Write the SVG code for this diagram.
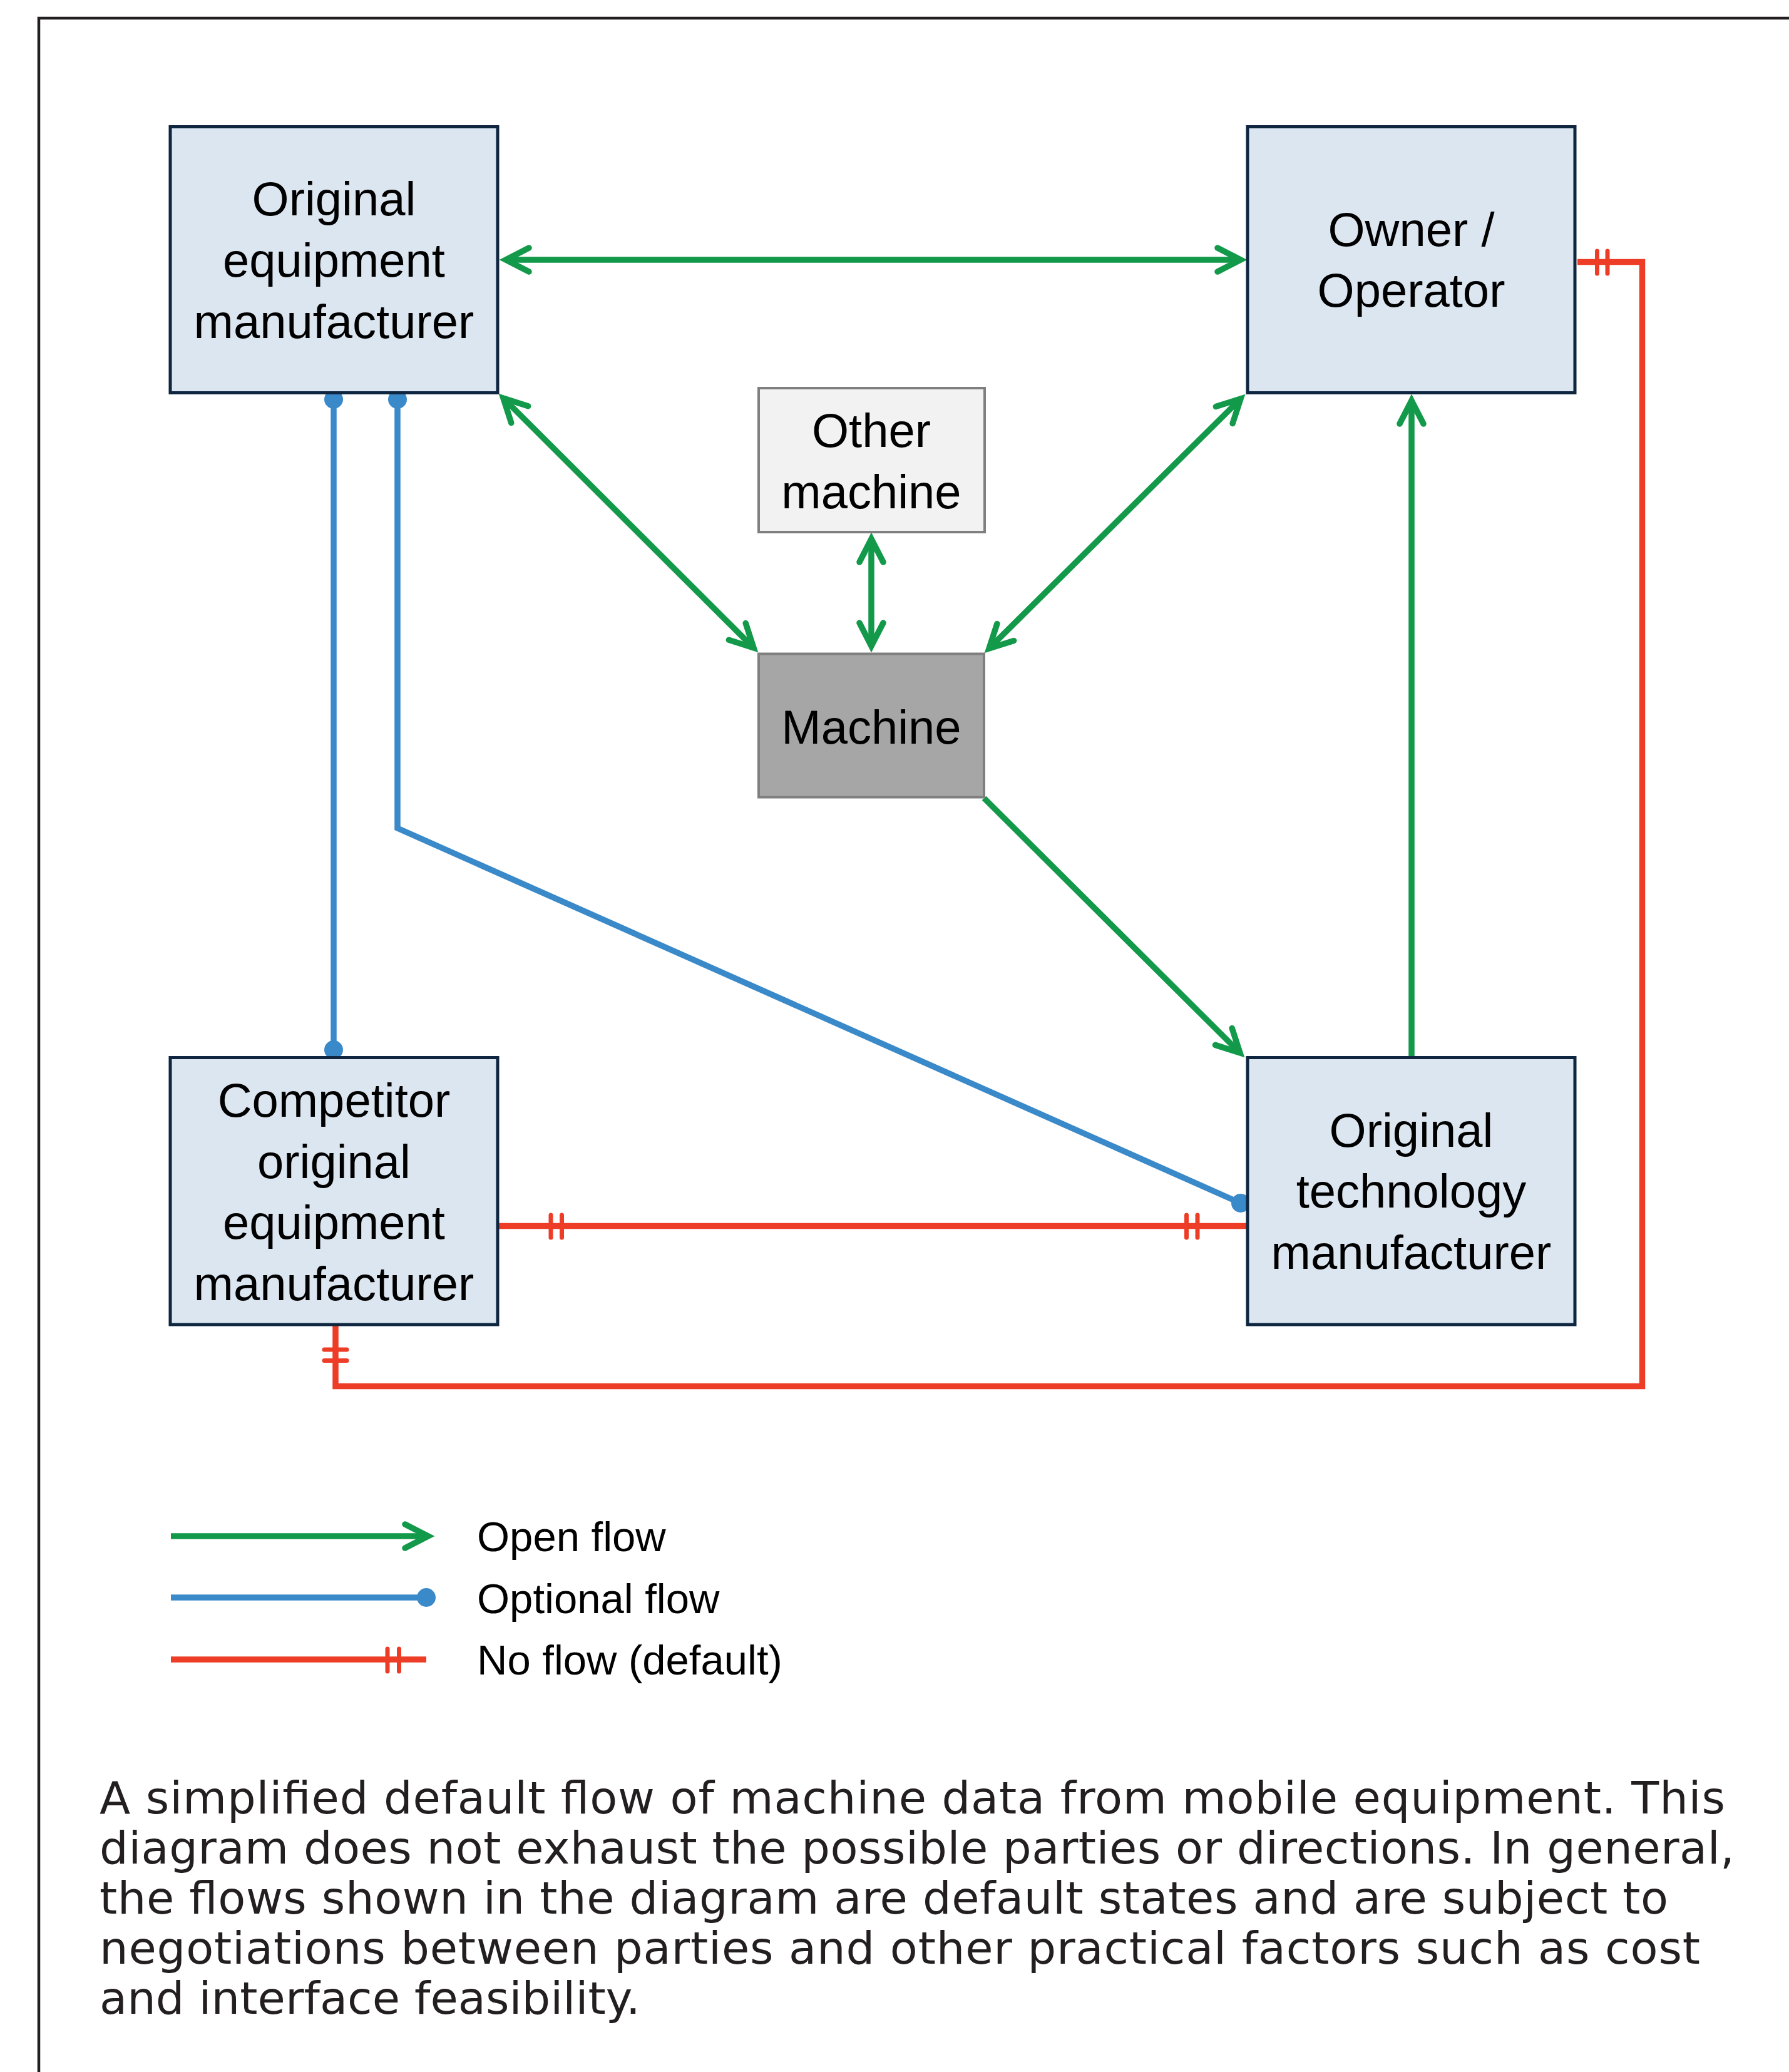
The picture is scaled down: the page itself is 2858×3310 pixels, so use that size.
<svg xmlns="http://www.w3.org/2000/svg" width="2858" height="3310" viewBox="0 0 2858 3310">
<style>
.node{fill:#dce6f1;stroke:#0f2641;stroke-width:5}
.other{fill:#f2f2f2;stroke:#7f7f7f;stroke-width:4}
.mach{fill:#a6a6a6;stroke:#7f7f7f;stroke-width:4}
.lbl{font-family:"Liberation Sans",Arial,sans-serif;font-size:76px;fill:#000;text-anchor:middle}
.leg{font-family:"Liberation Sans",Arial,sans-serif;font-size:67px;fill:#000}
.cap{font-family:"DejaVu Sans",Verdana,sans-serif;font-size:72px;fill:#231f20}
.g{fill:none;stroke:#12994a;stroke-width:9.5}
.b{fill:none;stroke:#3a89c9;stroke-width:9.5}
.r{fill:none;stroke:#ee3d27;stroke-width:9.5}
.tick{fill:none;stroke:#ee3d27;stroke-width:7;stroke-linecap:round}
</style>
<defs>
<marker id="ah" markerUnits="userSpaceOnUse" viewBox="-60 -40 80 80" markerWidth="80" markerHeight="80" refX="0" refY="0" orient="auto-start-reverse" overflow="visible">
<path d="M-37,-19 L0,0 L-37,19" fill="none" stroke="#12994a" stroke-width="9.5" stroke-linecap="round" stroke-linejoin="miter" stroke-miterlimit="10"/>
</marker>
<marker id="dot" markerUnits="userSpaceOnUse" viewBox="-20 -20 40 40" markerWidth="40" markerHeight="40" refX="0" refY="0" overflow="visible">
<circle cx="0" cy="0" r="15" fill="#3a89c9"/>
</marker>
</defs>
<rect x="0" y="0" width="2858" height="3310" fill="#ffffff"/>
<path d="M62,3310 V29 H2858" fill="none" stroke="#231f20" stroke-width="4.5"/>

<g id="connectors">
<line class="g" x1="808" y1="415" x2="1982" y2="415" marker-start="url(#ah)" marker-end="url(#ah)"/>
<line class="g" x1="804" y1="636" x2="1204" y2="1035" marker-start="url(#ah)" marker-end="url(#ah)"/>
<line class="g" x1="1982" y1="637" x2="1580" y2="1036" marker-start="url(#ah)" marker-end="url(#ah)"/>
<line class="g" x1="1392" y1="861" x2="1392" y2="1032" marker-start="url(#ah)" marker-end="url(#ah)"/>
<line class="g" x1="1572" y1="1275" x2="1981" y2="1682" marker-end="url(#ah)"/>
<line class="g" x1="2255" y1="1689" x2="2255" y2="640" marker-end="url(#ah)"/>
<path class="b" d="M533,638 V1677" marker-start="url(#dot)" marker-end="url(#dot)"/>
<path class="b" d="M635,638 V1323 L1982,1922" marker-start="url(#dot)" marker-end="url(#dot)"/>
<path class="r" d="M795,1958.5 H1993"/>
<line class="tick" x1="880" y1="1941" x2="880" y2="1977"/>
<line class="tick" x1="897.5" y1="1941" x2="897.5" y2="1977"/>
<line class="tick" x1="1895.5" y1="1941" x2="1895.5" y2="1977"/>
<line class="tick" x1="1913" y1="1941" x2="1913" y2="1977"/>
<path class="r" d="M2520,418.5 H2623.5 V2214.5 H536 V2116"/>
<line class="tick" x1="2551.5" y1="401" x2="2551.5" y2="437"/>
<line class="tick" x1="2568" y1="401" x2="2568" y2="437"/>
<line class="tick" x1="518" y1="2156" x2="554" y2="2156"/>
<line class="tick" x1="518" y1="2173.5" x2="554" y2="2173.5"/>
</g>

<g id="oem">
<rect class="node" x="272" y="202.5" width="523" height="425"/>
<text class="lbl" x="533.5" y="344">Original</text>
<text class="lbl" x="533.5" y="442">equipment</text>
<text class="lbl" x="533.5" y="540">manufacturer</text>
</g>
<g id="owner">
<rect class="node" x="1993" y="202.5" width="523" height="425"/>
<text class="lbl" x="2254.5" y="393">Owner /</text>
<text class="lbl" x="2254.5" y="490">Operator</text>
</g>
<g id="other-machine">
<rect class="other" x="1212" y="620" width="361" height="230"/>
<text class="lbl" x="1392" y="714">Other</text>
<text class="lbl" x="1392" y="812">machine</text>
</g>
<g id="machine">
<rect class="mach" x="1212" y="1044.5" width="360" height="229"/>
<text class="lbl" x="1392" y="1188">Machine</text>
</g>
<g id="competitor-oem">
<rect class="node" x="272" y="1689.5" width="523" height="426.5"/>
<text class="lbl" x="533.5" y="1784">Competitor</text>
<text class="lbl" x="533.5" y="1881.5">original</text>
<text class="lbl" x="533.5" y="1979">equipment</text>
<text class="lbl" x="533.5" y="2077">manufacturer</text>
</g>
<g id="otm">
<rect class="node" x="1993" y="1689.5" width="523" height="426.5"/>
<text class="lbl" x="2254.5" y="1832">Original</text>
<text class="lbl" x="2254.5" y="1929">technology</text>
<text class="lbl" x="2254.5" y="2027">manufacturer</text>
</g>

<g id="legend">
<line class="g" x1="273" y1="2454" x2="684" y2="2454" marker-end="url(#ah)"/>
<text class="leg" x="762" y="2478">Open flow</text>
<path class="b" d="M273,2552 H681" marker-end="url(#dot)"/>
<text class="leg" x="762" y="2577">Optional flow</text>
<path class="r" d="M273,2651 H681"/>
<line class="tick" x1="619" y1="2634" x2="619" y2="2670"/>
<line class="tick" x1="637.5" y1="2634" x2="637.5" y2="2670"/>
<text class="leg" x="762" y="2675">No flow (default)</text>
</g>

<g id="caption">
<text class="cap" x="159" y="2897" textLength="2597">A simplified default flow of machine data from mobile equipment. This</text>
<text class="cap" x="159" y="2977" textLength="2612">diagram does not exhaust the possible parties or directions. In general,</text>
<text class="cap" x="159" y="3057" textLength="2506">the flows shown in the diagram are default states and are subject to</text>
<text class="cap" x="159" y="3137" textLength="2557">negotiations between parties and other practical factors such as cost</text>
<text class="cap" x="159" y="3217" textLength="864">and interface feasibility.</text>
</g>
</svg>
